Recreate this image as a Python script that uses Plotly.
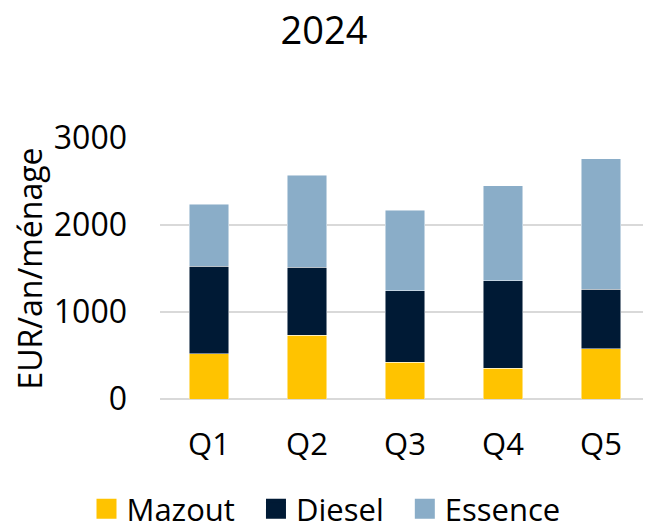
import plotly.graph_objects as go

categories = ["Q1", "Q2", "Q3", "Q4", "Q5"]
mazout = [520, 734, 420, 355, 577]
diesel = [1005, 783, 822, 1002, 684]
essence = [715, 1055, 925, 1097, 1498]
y_ticks = [0, 1000, 2000, 3000]

series = [("Mazout", mazout), ("Diesel", diesel), ("Essence", essence)]
colors = {"Mazout": "#FFC300", "Diesel": "#001A35", "Essence": "#8AADC8"}

# the page body adds an 8px offset; positions below compensate for it
OFF = 8
W, H = 651, 525

fig = go.Figure()
for name, vals in series:
    fig.add_trace(go.Bar(
        x=categories, y=vals, name=name, legendgroup=name, showlegend=False,
        marker=dict(color=colors[name], line=dict(width=0.8, color="rgba(255,255,255,0.6)")),
    ))
# legend entries with larger square swatches
for i, (name, _) in enumerate(series):
    label = name + ("\u00a0\u00a0" if i < len(series) - 1 else "")
    fig.add_trace(go.Scatter(
        x=[None], y=[None], mode="markers", name=label, legendgroup=name, showlegend=True,
        marker=dict(symbol="square", size=16, color=colors[name],
                    line=dict(width=4, color=colors[name])),
        hoverinfo="skip",
    ))

fig.update_layout(
    barmode="stack",
    bargap=0.6,
    width=W, height=H,
    paper_bgcolor="white", plot_bgcolor="white",
    font=dict(family="Open Sans", size=32, color="#000000"),
    title=dict(text="2024", x=(324 - OFF) / W, xanchor="center", xref="container",
               y=1 - (31 - OFF) / H, yanchor="middle", yref="container",
               font=dict(size=38, family="Open Sans", color="#000000")),
    margin=dict(l=160 - OFF, r=W - (650 - OFF), t=137.5 - OFF, b=H - (399.3 - OFF), autoexpand=False),
    showlegend=True,
    legend=dict(orientation="h", x=(326 - OFF) / W, xanchor="center", xref="container",
                y=1 - (509 - OFF) / H, yanchor="middle", yref="container",
                font=dict(size=31), itemwidth=30, itemsizing="trace", traceorder="normal"),
    xaxis=dict(showline=False, ticks="", ticklabelstandoff=24, tickfont=dict(size=31),
               automargin=False),
    yaxis=dict(range=[0, 3000], tickvals=y_ticks, showgrid=True, gridcolor="#D9D9D9", gridwidth=2,
               zeroline=True, zerolinecolor="#D9D9D9", zerolinewidth=2,
               ticks="", ticklabelstandoff=32, tickfont=dict(size=32), automargin=False,
               title=dict(text="EUR/an/ménage", font=dict(size=32), standoff=6)),
)

fig.write_html("out.html")
